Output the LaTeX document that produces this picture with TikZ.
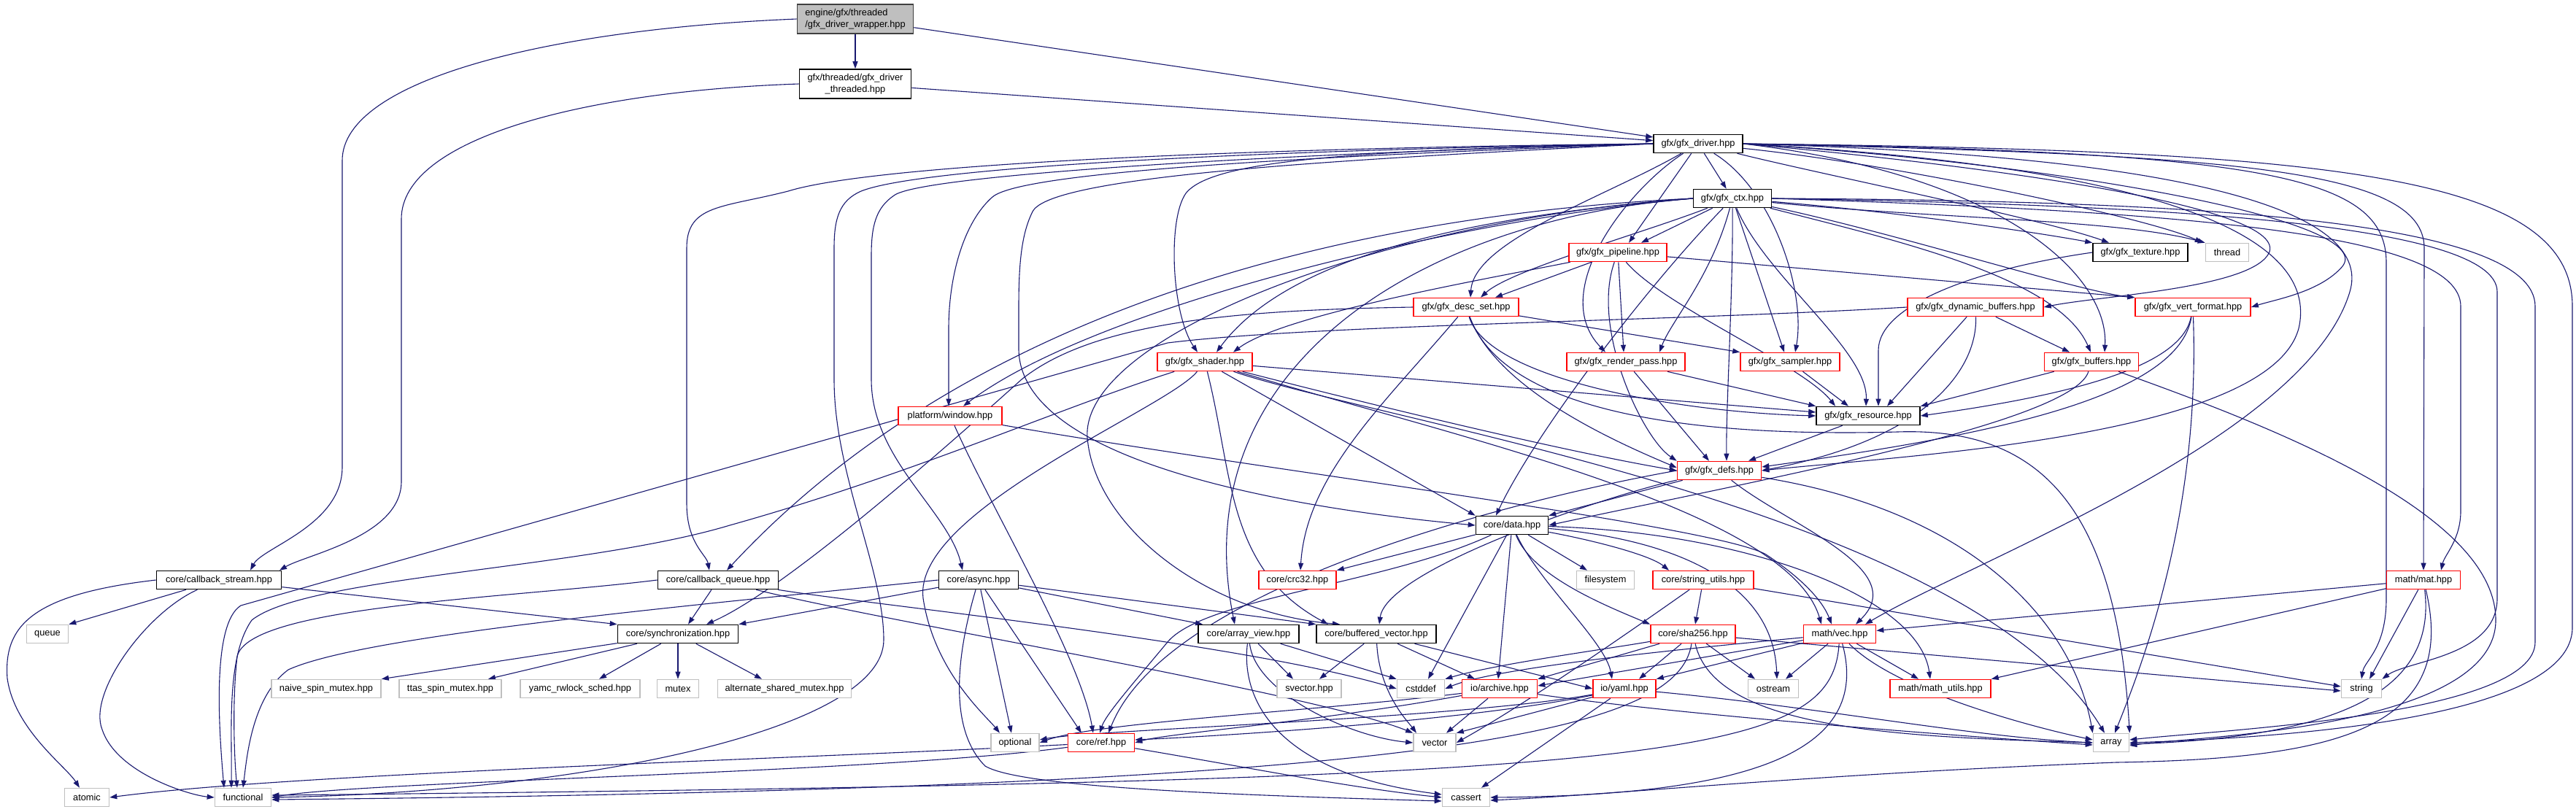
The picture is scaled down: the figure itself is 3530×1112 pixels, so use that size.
\documentclass[tikz,border=0pt]{standalone}
\usepackage{fontspec}
\setmainfont{Liberation Sans}
\usetikzlibrary{arrows.meta}
\pgfdeclarelayer{bg}\pgfsetlayers{bg,main}
\definecolor{ec}{RGB}{25,25,112}
\definecolor{gr}{RGB}{191,191,191}
\definecolor{dg}{RGB}{64,64,64}
\tikzset{
 box/.style={rectangle, inner sep=0pt, fill=white, line width=1.6pt, minimum height=25pt, font=\fontsize{12.8pt}{15.5pt}\selectfont},
 nb/.style={box, draw=black},
 nr/.style={box, draw=red},
 ng/.style={box, draw=gr},
 e/.style={draw=ec, line width=1.1pt, -{Triangle[length=10pt,width=7pt]}},
}
\begin{document}
\begin{tikzpicture}[x=1pt,y=-1pt]
\useasboundingbox (0,0) rectangle (3530,1112);
% nodes
\node[box,draw=dg,fill=gr,minimum width=159pt,minimum height=40pt,align=left] (wrap) at (1172,26) {engine/gfx/threaded\\/gfx\_driver\_wrapper.hpp};
\node[nb,minimum width=153pt,minimum height=40pt,align=center] (thr) at (1172,115) {gfx/threaded/gfx\_driver\\\_threaded.hpp};
\node[nb,minimum width=122pt] (drv) at (2327,197) {gfx/gfx\_driver.hpp};
\node[nb,minimum width=107pt] (ctx) at (2374,272) {gfx/gfx\_ctx.hpp};
\node[nr,minimum width=134pt] (pipe) at (2217,346) {gfx/gfx\_pipeline.hpp};
\node[nb,minimum width=130pt] (tex) at (2933,346) {gfx/gfx\_texture.hpp};
\node[ng,minimum width=59pt] (thread) at (3052,346) {thread};
\node[nr,minimum width=144pt] (desc) at (2009,421) {gfx/gfx\_desc\_set.hpp};
\node[nr,minimum width=186pt] (dyn) at (2707,421) {gfx/gfx\_dynamic\_buffers.hpp};
\node[nr,minimum width=158pt] (vert) at (3005,421) {gfx/gfx\_vert\_format.hpp};
\node[nr,minimum width=130pt] (shader) at (1651,496) {gfx/gfx\_shader.hpp};
\node[nr,minimum width=162pt] (rpass) at (2228,496) {gfx/gfx\_render\_pass.hpp};
\node[nr,minimum width=136pt] (samp) at (2453,496) {gfx/gfx\_sampler.hpp};
\node[nr,minimum width=129pt] (buf) at (2866,496) {gfx/gfx\_buffers.hpp};
\node[nr,minimum width=142pt] (win) at (1302,570) {platform/window.hpp};
\node[nb,minimum width=142pt] (res) at (2560,570) {gfx/gfx\_resource.hpp};
\node[nr,minimum width=115pt] (defs) at (2356,645) {gfx/gfx\_defs.hpp};
\node[nb,minimum width=99pt] (data) at (2072,720) {core/data.hpp};
\node[nb,minimum width=171pt] (cs) at (300,795) {core/callback\_stream.hpp};
\node[nb,minimum width=165pt] (cq) at (984,795) {core/callback\_queue.hpp};
\node[nb,minimum width=109pt] (async) at (1341,795) {core/async.hpp};
\node[nr,minimum width=106pt] (crc) at (1778,795) {core/crc32.hpp};
\node[ng,minimum width=79pt] (fs) at (2200,795) {filesystem};
\node[nr,minimum width=138pt] (su) at (2334,795) {core/string\_utils.hpp};
\node[nr,minimum width=101pt] (mat) at (3321,795) {math/mat.hpp};
\node[ng,minimum width=57pt] (queue) at (65,869) {queue};
\node[nb,minimum width=165pt] (sync) at (929,869) {core/synchronization.hpp};
\node[nb,minimum width=138pt] (av) at (1711,869) {core/array\_view.hpp};
\node[nb,minimum width=164pt] (bv) at (1886,869) {core/buffered\_vector.hpp};
\node[nr,minimum width=116pt] (sha) at (2320,869) {core/sha256.hpp};
\node[nr,minimum width=99pt] (vec) at (2521,869) {math/vec.hpp};
\node[ng,minimum width=150pt] (naive) at (447,944) {naive\_spin\_mutex.hpp};
\node[ng,minimum width=140pt] (ttas) at (617,944) {ttas\_spin\_mutex.hpp};
\node[ng,minimum width=164pt] (yamc) at (795,944) {yamc\_rwlock\_sched.hpp};
\node[ng,minimum width=57pt] (mutex) at (929,944) {mutex};
\node[ng,minimum width=183pt] (alt) at (1075,944) {alternate\_shared\_mutex.hpp};
\node[ng,minimum width=88pt] (svec) at (1794,944) {svector.hpp};
\node[ng,minimum width=65pt] (cstddef) at (1947,944) {cstddef};
\node[nr,minimum width=103pt] (archive) at (2055,944) {io/archive.hpp};
\node[nr,minimum width=86pt] (yaml) at (2226,944) {io/yaml.hpp};
\node[ng,minimum width=69pt] (ostream) at (2430,944) {ostream};
\node[nr,minimum width=138pt] (mu) at (2659,944) {math/math\_utils.hpp};
\node[ng,minimum width=55pt] (string) at (3236,944) {string};
\node[ng,minimum width=66pt] (optional) at (1391,1018) {optional};
\node[nr,minimum width=91pt] (ref) at (1509,1018) {core/ref.hpp};
\node[ng,minimum width=58pt] (vector) at (1966,1018) {vector};
\node[ng,minimum width=49pt] (array) at (2893,1018) {array};
\node[ng,minimum width=61pt] (atomic) at (119,1093) {atomic};
\node[ng,minimum width=77pt] (functional) at (333,1093) {functional};
\node[ng,minimum width=65pt] (cassert) at (2009,1093) {cassert};

\begin{pgfonlayer}{bg}
\fill[white] (0,0) rectangle (3530,1112);
% top
\draw[e] (wrap) -- (thr);
\draw[e] (wrap) -- (drv);
\draw[e] (thr) -- (drv);
\draw[e] (wrap.west) .. controls (750,40) and (469,110) .. (469,220) -- (469,640) .. controls (469,720) and (360,750) .. ([xshift=43pt]cs.north);
\draw[e] (thr.west) .. controls (800,125) and (550,190) .. (550,300) -- (550,660) .. controls (550,735) and (420,760) .. ([xshift=83pt]cs.north);
% driver
\draw[e] (drv.west) .. controls (1700,203) and (1200,225) .. (1080,262) .. controls (990,285) and (941,280) .. (941,340) -- (941,690) .. controls (941,745) and (968,760) .. ([xshift=-12pt]cq.north);
\draw[e] (drv.west) .. controls (1700,206) and (1260,230) .. (1180,262) .. controls (1150,275) and (1143,300) .. (1143,340) -- (1143,520) .. controls (1143,650) and (1211,780) .. (1211,877) .. controls (1211,1000) and (800,1085) .. (functional.east);
\draw[e] (drv.west) .. controls (1750,210) and (1260,240) .. (1225,268) .. controls (1200,285) and (1194,310) .. (1194,350) -- (1194,520) .. controls (1194,630) and (1300,700) .. ([xshift=-22pt]async.north);
\draw[e] (drv.west) .. controls (1800,214) and (1400,235) .. (1360,270) .. controls (1320,305) and (1300,380) .. (1300,450) -- ([xshift=-2pt]win.north);
\draw[e] (drv.west) .. controls (1850,218) and (1440,240) .. (1415,290) .. controls (1400,320) and (1396,360) .. (1396,420) -- (1396,480) .. controls (1400,640) and (1800,700) .. (data.west);
\draw[e] (drv.west) .. controls (1850,206) and (1660,220) .. (1625,265) .. controls (1600,300) and (1605,430) .. ([xshift=-10pt]shader.north);
\draw[e] (drv) .. controls (2200,270) and (2020,330) .. ([xshift=6pt]desc.north);
\draw[e] (drv) -- ([xshift=15pt]pipe.north);
\draw[e] (drv) -- (ctx);
\draw[e] (drv) .. controls (2230,260) and (2120,400) .. ([xshift=-28pt]rpass.north);
\draw[e] (drv) .. controls (2430,260) and (2475,400) .. ([xshift=7pt]samp.north);
\draw[e] (drv) .. controls (2500,240) and (2800,300) .. ([xshift=-43pt]tex.north);
\draw[e] (drv) .. controls (2600,225) and (2950,300) .. ([xshift=-4pt]thread.north west);
\draw[e] (drv.east) .. controls (2700,225) and (3130,280) .. (3110,345) .. controls (3090,395) and (2880,405) .. (dyn.east);
\draw[e] (drv.east) .. controls (2800,222) and (3260,300) .. (3210,365) .. controls (3180,400) and (3120,410) .. (vert.east);
\draw[e] (drv.east) .. controls (2750,240) and (2890,380) .. ([xshift=18pt]buf.north);
\draw[e] (drv.east) .. controls (2950,228) and (3180,320) .. (3150,450) .. controls (3110,600) and (2600,625) .. (defs.east);
\draw[e] (drv.east) .. controls (3050,212) and (3322,230) .. (3322,340) -- (mat.north);
\draw[e] (drv.east) .. controls (3050,215) and (3250,300) .. (3220,400) .. controls (3160,600) and (2700,770) .. ([xshift=35pt]vec.north);
\draw[e] (drv.east) .. controls (3100,208) and (3270,240) .. (3270,360) -- (3270,820) .. controls (3270,890) and (3240,905) .. ([xshift=0pt]string.north);
\draw[e] (drv.east) .. controls (3200,206) and (3525,240) .. (3525,420) -- (3525,860) .. controls (3525,990) and (3100,1012) .. (array.east);
% ctx
\draw[e] (ctx) -- ([xshift=32pt]pipe.north);
\draw[e] (ctx) .. controls (2250,320) and (2070,370) .. ([xshift=20pt]desc.north);
\draw[e] (ctx.west) .. controls (2100,290) and (1780,330) .. ([xshift=16pt]shader.north);
\draw[e] (ctx) .. controls (2345,380) and (2290,440) .. ([xshift=46pt]rpass.north);
\draw[e] (ctx) -- ([xshift=-8pt]samp.north);
\draw[e] (ctx) .. controls (2600,290) and (2800,320) .. (tex.north west);
\draw[e] (ctx) .. controls (2650,300) and (2900,300) .. (thread.north west);
\draw[e] (ctx) .. controls (2600,330) and (2820,380) .. ([xshift=-1pt]buf.north);
\draw[e] (ctx) .. controls (2600,320) and (2850,400) .. (vert.north west);
\draw[e] (ctx) .. controls (2420,380) and (2560,480) .. ([xshift=-3pt]res.north);
\draw[e] (ctx) .. controls (2375,400) and (2365,560) .. ([xshift=10pt]defs.north);
\draw[e] (ctx.west) .. controls (2000,300) and (1500,420) .. ([xshift=18pt]win.north);
\draw[e] (ctx.west) .. controls (1900,292) and (1350,400) .. ([xshift=12pt]cq.north);
\draw[e] (ctx) .. controls (2250,400) and (2100,600) .. ([xshift=-22pt]data.north);
\draw[e] (ctx.west) .. controls (1900,300) and (1480,460) .. (1490,600) .. controls (1500,720) and (1650,840) .. ([xshift=-50pt]bv.north);
\draw[e] (ctx.west) .. controls (1950,300) and (1620,500) .. ([xshift=-19pt]av.north);
\draw[e] (ctx.east) .. controls (2900,280) and (3422,300) .. (3422,400) -- (3422,820) .. controls (3422,900) and (3300,905) .. (string.north east);
\draw[e] (ctx.east) .. controls (3000,275) and (3474,300) .. (3474,420) -- (3474,880) .. controls (3474,980) and (3050,1000) .. ([yshift=4pt]array.east);
\draw[e] (ctx.east) .. controls (3000,290) and (3372,320) .. (3372,420) -- (3372,700) .. controls (3372,740) and (3350,760) .. ([xshift=24pt]mat.north);
% pipeline
\draw[e] (pipe) -- ([xshift=40pt]desc.north);
\draw[e] (pipe) .. controls (2050,380) and (1760,430) .. ([xshift=39pt]shader.north);
\draw[e] (pipe) -- ([xshift=-3pt]rpass.north);
\draw[e] (pipe) -- (vert.north west);
\draw[e] (pipe) .. controls (2280,420) and (2470,500) .. ([xshift=-45pt]res.north);
\draw[e] (pipe) .. controls (2180,450) and (2250,600) .. (defs.north west);
% desc
\draw[e] (desc.west) .. controls (1700,425) and (1500,440) .. (1400,520) .. controls (1200,700) and (1050,820) .. ([xshift=39pt]sync.north);
\draw[e] (desc) -- (samp.north west);
\draw[e] (desc) .. controls (2040,520) and (2300,565) .. (res.west);
\draw[e] (desc) .. controls (2050,530) and (2200,600) .. ([yshift=4pt]defs.west);
\draw[e] (desc) .. controls (1900,550) and (1790,650) .. ([xshift=4pt]crc.north);
\draw[e] (desc) .. controls (2060,560) and (2300,600) .. (2600,592) .. controls (2800,585) and (2900,700) .. (array.north east);
% texture, dyn, vert
\draw[e] (tex.west) .. controls (2700,370) and (2574,420) .. (2574,480) -- ([xshift=14pt]res.north);
\draw[e] (dyn) -- ([xshift=-30pt]buf.north);
\draw[e] (dyn) -- ([xshift=26pt]res.north);
\draw[e] (dyn) .. controls (2710,500) and (2650,600) .. (defs.east);
\draw[e] (dyn.west) .. controls (2300,440) and (1800,445) .. (1600,470) -- (330,830) .. controls (290,855) and (300,1000) .. ([xshift=-26pt]functional.north);
\draw[e] (vert) .. controls (2990,500) and (2850,540) .. (res.east);
\draw[e] (vert) .. controls (2985,550) and (2700,600) .. ([yshift=5pt]defs.east);
\draw[e] (vert) .. controls (3015,700) and (2940,900) .. ([xshift=5pt]array.north);
% shader
\draw[e] (shader) -- ([yshift=5pt]res.west);
\draw[e] (shader) .. controls (1900,560) and (2150,620) .. (defs.west);
\draw[e] (shader) -- (data.north west);
\draw[e] (shader) .. controls (1690,650) and (1680,780) .. ([xshift=-66pt]bv.north);
\draw[e] (shader) .. controls (1600,560) and (1250,700) .. (1265,820) .. controls (1280,920) and (1350,980) .. ([xshift=-21pt]optional.north);
\draw[e] (shader) .. controls (1450,560) and (1250,650) .. (1000,720) .. controls (800,780) and (420,790) .. (345,850) .. controls (310,900) and (318,1000) .. ([xshift=-16pt]functional.north);
\draw[e] (shader) .. controls (2000,600) and (2450,700) .. ([xshift=-25pt]vec.north);
\draw[e] (shader) .. controls (1900,580) and (2700,700) .. ([xshift=-9pt]array.north);
% render pass, sampler, buffers, resource
\draw[e] (rpass) -- (res.north west);
\draw[e] (rpass) -- ([xshift=-14pt]defs.north);
\draw[e] (samp) -- ([xshift=-27pt]res.north);
\draw[e] (buf) -- (res.north east);
\draw[e] (buf) .. controls (2840,580) and (2400,660) .. (data.east);
\draw[e] (buf) .. controls (3100,580) and (3420,700) .. (3420,850) .. controls (3420,1000) and (3000,1010) .. ([yshift=-4pt]array.east);
\draw[e] (res) -- ([xshift=40pt]defs.north);
% window
\draw[e] (win) .. controls (1360,700) and (1480,900) .. ([xshift=-11pt]ref.north);
\draw[e] (win) .. controls (1700,640) and (2350,720) .. (2420,760) .. controls (2480,800) and (2500,830) .. ([xshift=-11pt]vec.north);
% defs
\draw[e] (defs) -- (data.north east);
\draw[e] (defs) .. controls (2450,720) and (2620,780) .. ([xshift=22pt]vec.north);
\draw[e] (defs) .. controls (2700,700) and (2840,850) .. (array.north west);
\draw[e] (defs.west) .. controls (2100,680) and (1600,800) .. ([xshift=10pt]ref.north);
\draw[e] (defs) .. controls (2200,680) and (1900,780) .. ([xshift=4pt]bv.north);
% data
\draw[e] (data) -- (crc.north east);
\draw[e] (data) -- ([xshift=10pt]cstddef.north);
\draw[e] (data) -- ([xshift=-2pt]archive.north);
\draw[e] (data) .. controls (2110,800) and (2200,880) .. ([xshift=-17pt]yaml.north);
\draw[e] (data) .. controls (1900,800) and (1650,820) .. (1600,880) .. controls (1550,940) and (1515,980) .. ([xshift=-2pt]ref.north);
\draw[e] (data) -- ([xshift=-25pt]fs.north);
\draw[e] (data) .. controls (2180,740) and (2260,760) .. ([xshift=-47pt]su.north);
\draw[e] (data) .. controls (2100,790) and (2200,830) .. (sha.north west);
\draw[e] (data) .. controls (2300,740) and (2430,800) .. ([xshift=5pt]ostream.north);
\draw[e] (data) .. controls (2400,730) and (2630,820) .. ([xshift=-14pt]mu.north);
% callback stream / queue / async
\draw[e] (cs) -- (queue.north east);
\draw[e] (cs.west) .. controls (40,815) and (5,860) .. (10,930) .. controls (20,1000) and (90,1050) .. ([xshift=-10pt]atomic.north);
\draw[e] (cs) .. controls (200,840) and (120,950) .. (140,1000) .. controls (160,1060) and (260,1090) .. (functional.west);
\draw[e] (cs) -- (sync.north west);
\draw[e] (cq) -- ([xshift=14pt]sync.north);
\draw[e] (cq.west) .. controls (700,820) and (340,830) .. (325,900) .. controls (318,960) and (321,1040) .. ([xshift=-8pt]functional.north);
\draw[e] (cq) .. controls (1200,830) and (1700,880) .. (cstddef.west);
\draw[e] (cq) .. controls (1200,850) and (1800,950) .. (vector.north west);
\draw[e] (async) -- (sync.north east);
\draw[e] (async) -- ([xshift=-63pt]av.north);
\draw[e] (async) -- (bv.north west);
\draw[e] (async) -- ([xshift=-5pt]optional.north);
\draw[e] (async) -- ([xshift=-27pt]ref.north);
\draw[e] (async) .. controls (1310,900) and (1300,1000) .. (1350,1050) .. controls (1400,1080) and (1700,1090) .. ([yshift=-5pt]cassert.west);
\draw[e] (async.west) .. controls (950,830) and (500,870) .. (395,918) .. controls (345,955) and (338,1040) .. ([xshift=0pt]functional.north);
% synchronization
\draw[e] (sync) -- (naive.north east);
\draw[e] (sync) -- ([xshift=52pt]ttas.north);
\draw[e] (sync) -- ([xshift=26pt]yamc.north);
\draw[e] (sync) -- (mutex);
\draw[e] (sync) -- ([xshift=-31pt]alt.north);
% array view / buffered vector
\draw[e] (av) -- ([xshift=-22pt]svec.north);
\draw[e] (av) -- (cstddef.north west);
\draw[e] (av) .. controls (1720,950) and (1850,1010) .. (vector.west);
\draw[e] (av) .. controls (1700,960) and (1750,1060) .. ([yshift=4pt]cassert.west);
\draw[e] (bv) -- ([xshift=14pt]svec.north);
\draw[e] (bv) .. controls (1890,950) and (1930,990) .. ([xshift=-25pt]vector.north);
\draw[e] (bv) -- ([xshift=-34pt]archive.north);
\draw[e] (bv) -- (yaml.west);
% string utils, sha256
\draw[e] (su) -- ([xshift=3pt]sha.north);
\draw[e] (su) -- ([yshift=3pt]string.west);
\draw[e] (su) .. controls (2270,840) and (2100,960) .. (vector.east);
\draw[e] (sha) -- ([xshift=20pt]yaml.north);
\draw[e] (sha) -- (archive.north east);
\draw[e] (sha) -- ([xshift=-25pt]ostream.north);
\draw[e] (sha) .. controls (2350,1000) and (2600,1010) .. (array.west);
\draw[e] (sha) -- ([yshift=-3pt]string.west);
\draw[e] (sha) .. controls (2200,890) and (2050,910) .. (cstddef.north east);
\draw[e] (sha) .. controls (2300,1000) and (2000,1080) .. ([yshift=-3pt]functional.east);
% vec
\draw[e] (vec) -- ([yshift=4pt]archive.east);
\draw[e] (vec) -- (yaml.north east);
\draw[e] (vec) -- ([xshift=17pt]ostream.north);
\draw[e] (vec) -- ([xshift=-30pt]mu.north);
\draw[e] (vec) .. controls (2300,890) and (2050,915) .. (cstddef.east);
\draw[e] (vec) .. controls (2565,1030) and (2400,1090) .. (cassert.east);
\draw[e] (vec) .. controls (2510,1040) and (2300,1070) .. ([yshift=3pt]functional.east);
\draw[e] (vec) .. controls (2600,950) and (2800,1000) .. ([yshift=4pt]array.west);
% mat
\draw[e] (mat) -- (vec);
\draw[e] (mat) -- (mu.north east);
\draw[e] (mat) -- ([xshift=11pt]string.north);
\draw[e] (mat) .. controls (3340,950) and (3200,1010) .. ([yshift=-2pt]array.east);
\draw[e] (mat) .. controls (3370,1000) and (3200,1040) .. (2900,1045) .. controls (2500,1060) and (2200,1090) .. ([yshift=-4pt]cassert.east);
% io
\draw[e] (archive) .. controls (1800,975) and (1500,990) .. (optional.east);
\draw[e] (archive) .. controls (1800,990) and (1600,1005) .. (ref.east);
\draw[e] (archive) -- ([xshift=16pt]vector.north);
\draw[e] (archive) .. controls (2300,980) and (2700,1010) .. ([yshift=-3pt]array.west);
\draw[e] (yaml) .. controls (2000,985) and (1500,1000) .. ([yshift=4pt]optional.east);
\draw[e] (yaml) .. controls (2000,990) and (1650,1010) .. ([yshift=4pt]ref.east);
\draw[e] (yaml) -- (vector.north east);
\draw[e] (yaml) -- ([xshift=21pt]cassert.north);
\draw[e] (yaml) .. controls (2500,970) and (2700,1010) .. (array.west);
% ref
\draw[e] (ref) .. controls (1200,1060) and (500,1070) .. (functional.east);
\draw[e] (ref) .. controls (1100,1040) and (400,1060) .. (atomic.east);
\draw[e] (ref) .. controls (1700,1050) and (1850,1080) .. (cassert.west);
\end{pgfonlayer}
\end{tikzpicture}
\end{document}
